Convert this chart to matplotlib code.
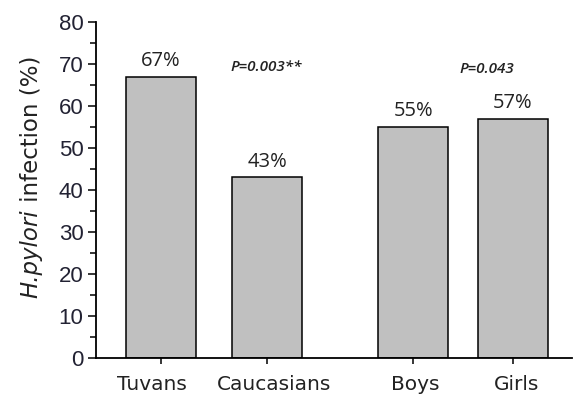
import matplotlib
matplotlib.use("Agg")
import matplotlib.pyplot as plt

plt.rcParams["font.family"] = ["Liberation Sans", "DejaVu Sans"]

# Data
categories = ["Tuvans", "Caucasians", "Boys", "Girls"]
infection_pct = [67, 43, 55, 57]
pct_labels = ["67%", "43%", "55%", "57%"]
p_texts = ["P=0.003**", "P=0.043"]

# Layout
x_pos = [0, 1, 2.38, 3.32]
label_shift = [-0.085, 0.07, 0.02, 0.03]
bar_width = 0.66
p_x = [0.99, 3.07]
p_y = [69.2, 68.8]

fig = plt.figure(figsize=(5.76, 3.98), dpi=100)
ax = fig.add_axes([0.1667, 0.1005, 0.8263, 0.8442])

ax.bar(x_pos, infection_pct, width=bar_width, color="#c0c0c0",
       edgecolor="black", linewidth=1.1, zorder=2)

for x, v, lab in zip(x_pos, infection_pct, pct_labels):
    ax.annotate(lab, (x, v), xytext=(0, 4), textcoords="offset points",
                ha="center", va="bottom", fontsize=14.5,
                family="Open Sans", color="#222222")

for x, y, t in zip(p_x, p_y, p_texts):
    ax.text(x, y, t, ha="center", va="center", fontsize=11,
            family="Open Sans", style="italic", weight="semibold",
            color="#222222")

ax.set_xlim(-0.613, 3.877)
ax.set_ylim(0, 80)
ax.set_yticks(range(0, 81, 10))
ax.set_yticks(range(5, 80, 10), minor=True)
ax.set_yticklabels([str(v) for v in range(0, 81, 10)], fontsize=16,
                   color="#222233")
ax.set_xticks(x_pos)
ax.set_xticklabels([])

# category names, nudged slightly off their tick marks
for x, s, name in zip(x_pos, label_shift, categories):
    ax.annotate(name, (x + s, 0), xytext=(0, -12.5), textcoords="offset points",
                ha="center", va="top", fontsize=14.5, family="DejaVu Sans",
                color="#222222", annotation_clip=False)

ax.tick_params(axis="y", which="major", direction="out", length=6,
               width=1.1, pad=3)
ax.tick_params(axis="y", which="minor", direction="out", length=4,
               width=1.1)
ax.tick_params(axis="x", which="major", direction="out", length=4,
               width=1.1)

for side in ("top", "right"):
    ax.spines[side].set_visible(False)
for side in ("left", "bottom"):
    ax.spines[side].set_linewidth(1.3)

# y-axis title: italic species name followed by upright text
renderer = fig.canvas.get_renderer()
lab_x = 31 / 576
lab_y0 = 1 - 298 / 398
t1 = fig.text(lab_x, lab_y0, "H.pylori", rotation=90, rotation_mode="anchor",
              ha="left", va="center", fontsize=16.5, family="DejaVu Sans",
              style="italic", color="#222222")
h1 = t1.get_window_extent(renderer).height / fig.bbox.height
fig.text(lab_x, lab_y0 + h1, "\u00a0infection (%)", rotation=90,
         rotation_mode="anchor", ha="left", va="center", fontsize=16.5,
         family="DejaVu Sans", color="#222222")

fig.savefig("out.png", dpi=100)
